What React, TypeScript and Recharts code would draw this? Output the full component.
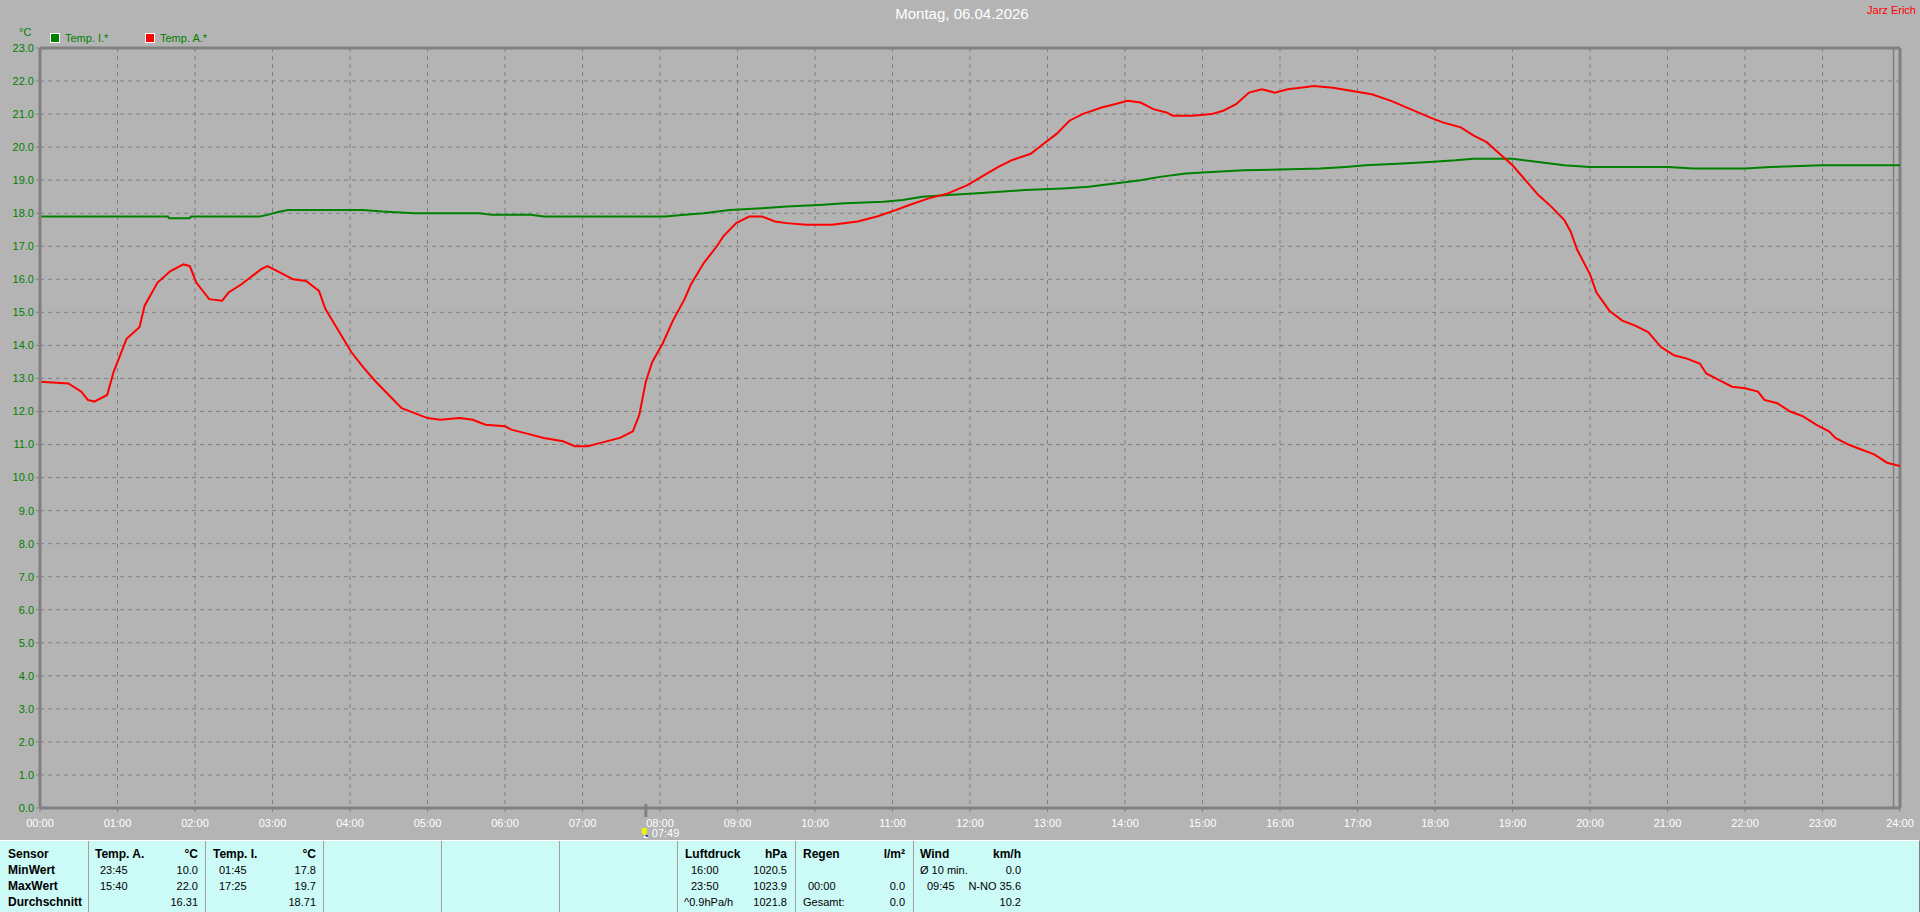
import React from 'react';
import { LineChart, Line, XAxis, YAxis, CartesianGrid, ReferenceLine } from 'recharts';

const FONT = '"Liberation Sans", Arial, Helvetica, sans-serif';

// time in minutes since midnight
const hourTicks = [0, 60, 120, 180, 240, 300, 360, 420, 480, 540, 600, 660, 720, 780, 840, 900, 960, 1020, 1080, 1140, 1200, 1260, 1320, 1380, 1440];
const tempTicks = [0, 1, 2, 3, 4, 5, 6, 7, 8, 9, 10, 11, 12, 13, 14, 15, 16, 17, 18, 19, 20, 21, 22, 23];

// Temp. A. (aussen)
const outTimes = [
  0, 22, 32, 37, 42, 52, 57, 62, 67, 77, 81, 91, 101, 111, 116, 121, 131, 141, 146, 156,
  161, 171, 176, 186, 196, 206, 216, 221, 231, 241, 250, 260, 270, 280, 290, 300, 310, 325, 335, 345,
  360, 365, 380, 390, 405, 414, 424, 434, 449, 459, 464, 469, 474, 482, 490, 499, 504, 514, 524, 529,
  539, 549, 559, 569, 578, 593, 613, 633, 648, 663, 673, 688, 703, 718, 733, 742, 752, 767, 777, 787,
  797, 807, 822, 832, 842, 852, 862, 872, 877, 892, 907, 916, 926, 936, 946, 956, 966, 976, 986, 1001,
  1016, 1031, 1046, 1061, 1076, 1086, 1100, 1110, 1120, 1130, 1140, 1150, 1160, 1170, 1180, 1185, 1190, 1200, 1205, 1215,
  1225, 1235, 1245, 1255, 1265, 1275, 1285, 1290, 1300, 1310, 1320, 1330, 1335, 1345, 1355, 1365, 1375, 1385, 1390, 1400,
  1410, 1420, 1430, 1440,
];
const outValues = [
  12.9, 12.85, 12.6, 12.35, 12.3, 12.5, 13.2, 13.7, 14.2, 14.55, 15.2, 15.9, 16.25, 16.45, 16.4, 15.9, 15.4, 15.35, 15.6, 15.85,
  16.0, 16.3, 16.4, 16.2, 16.0, 15.95, 15.65, 15.1, 14.45, 13.8, 13.35, 12.9, 12.5, 12.1, 11.95, 11.8, 11.75, 11.8, 11.75, 11.6,
  11.55, 11.45, 11.3, 11.2, 11.1, 10.95, 10.95, 11.05, 11.2, 11.4, 11.9, 12.9, 13.5, 14.05, 14.75, 15.4, 15.85, 16.5, 17.0, 17.3,
  17.7, 17.9, 17.9, 17.75, 17.7, 17.65, 17.65, 17.75, 17.9, 18.1, 18.25, 18.45, 18.6, 18.85, 19.2, 19.4, 19.6, 19.8, 20.1, 20.4,
  20.8, 21.0, 21.2, 21.3, 21.4, 21.35, 21.15, 21.05, 20.95, 20.95, 21.0, 21.1, 21.3, 21.65, 21.75, 21.65, 21.75, 21.8, 21.85, 21.8,
  21.7, 21.6, 21.4, 21.15, 20.9, 20.75, 20.6, 20.35, 20.15, 19.8, 19.45, 19.0, 18.55, 18.2, 17.8, 17.45, 16.9, 16.15, 15.6, 15.05,
  14.75, 14.6, 14.4, 13.95, 13.7, 13.6, 13.45, 13.15, 12.95, 12.75, 12.7, 12.6, 12.35, 12.25, 12.0, 11.85, 11.6, 11.4, 11.2, 11.0,
  10.85, 10.7, 10.45, 10.35,
];

// Temp. I. (innen)
const inTimes = [
  0, 99, 100, 116, 117, 170, 176, 186, 192, 250, 265, 290, 340, 350, 380, 390, 484, 499, 514, 534,
  559, 578, 603, 623, 653, 668, 683, 703, 723, 743, 762, 792, 812, 832, 852, 867, 887, 907, 932, 991,
  1011, 1026, 1051, 1076, 1096, 1110, 1140, 1160, 1180, 1200, 1260, 1280, 1320, 1340, 1380, 1440,
];
const inValues = [
  17.9, 17.9, 17.85, 17.85, 17.9, 17.9, 17.95, 18.05, 18.1, 18.1, 18.05, 18.0, 18.0, 17.95, 17.95, 17.9, 17.9, 17.95, 18.0, 18.1,
  18.15, 18.2, 18.25, 18.3, 18.35, 18.4, 18.5, 18.55, 18.6, 18.65, 18.7, 18.75, 18.8, 18.9, 19.0, 19.1, 19.2, 19.25, 19.3, 19.35,
  19.4, 19.45, 19.5, 19.55, 19.6, 19.65, 19.65, 19.55, 19.45, 19.4, 19.4, 19.35, 19.35, 19.4, 19.45, 19.45,
];

const legendItems = [
  { name: 'Temp. I.*', color: '#008000' },
  { name: 'Temp. A.*', color: '#ff0000' },
];

const markerMinute = 469;
const markerLabel = '07:49';

const outData = outTimes.map((t, i) => ({ t, v: outValues[i] }));
const inData = inTimes.map((t, i) => ({ t, v: inValues[i] }));

const pad = (n: number) => String(n).padStart(2, '0');
const hourLabel = (m: number) => `${pad(Math.round(m / 60))}:00`;

const GRID = '#808080';
const BG = '#b4b4b4';

const NowMarker = (props: any) => {
  const vb = props.viewBox;
  if (!vb) return null;
  const x = vb.x;
  const yb = vb.y + vb.height;
  return (
    <g>
      <line x1={x} x2={x} y1={yb - 4} y2={yb + 9} stroke={GRID} strokeWidth={3} />
      <path
        d={`M${x - 4} ${yb + 20} L${x + 1} ${yb + 20} L${x + 1} ${yb + 25} L${x - 1} ${yb + 27} L${x - 2} ${yb + 27} L${x - 4} ${yb + 25} Z`}
        fill="#f0f000"
      />
      <rect x={x - 2} y={yb + 28} width={4} height={2} fill="#ffffff" />
      <rect x={x} y={yb + 27} width={2} height={2} fill="#2040a0" />
      <text x={x + 6} y={yb + 29} fill="#ffffff" fontSize={11} fontFamily={FONT}>
        {markerLabel}
      </text>
    </g>
  );
};

// stats table below the chart
const separators = [88, 205, 323, 441, 559, 677, 795, 913];
type Cell = { x: number; row: number; text: string; right?: boolean; bold?: boolean };
const tableCells: Cell[] = [
  { x: 8, row: 0, text: 'Sensor', bold: true },
  { x: 8, row: 1, text: 'MinWert', bold: true },
  { x: 8, row: 2, text: 'MaxWert', bold: true },
  { x: 8, row: 3, text: 'Durchschnitt', bold: true },

  { x: 95, row: 0, text: 'Temp. A.', bold: true },
  { x: 199, row: 0, text: '°C', bold: true, right: true },
  { x: 100, row: 1, text: '23:45' },
  { x: 199, row: 1, text: '10.0', right: true },
  { x: 100, row: 2, text: '15:40' },
  { x: 199, row: 2, text: '22.0', right: true },
  { x: 199, row: 3, text: '16.31', right: true },

  { x: 213, row: 0, text: 'Temp. I.', bold: true },
  { x: 317, row: 0, text: '°C', bold: true, right: true },
  { x: 219, row: 1, text: '01:45' },
  { x: 317, row: 1, text: '17.8', right: true },
  { x: 219, row: 2, text: '17:25' },
  { x: 317, row: 2, text: '19.7', right: true },
  { x: 317, row: 3, text: '18.71', right: true },

  { x: 685, row: 0, text: 'Luftdruck', bold: true },
  { x: 788, row: 0, text: 'hPa', bold: true, right: true },
  { x: 691, row: 1, text: '16:00' },
  { x: 788, row: 1, text: '1020.5', right: true },
  { x: 691, row: 2, text: '23:50' },
  { x: 788, row: 2, text: '1023.9', right: true },
  { x: 684, row: 3, text: '^0.9hPa/h' },
  { x: 788, row: 3, text: '1021.8', right: true },

  { x: 803, row: 0, text: 'Regen', bold: true },
  { x: 906, row: 0, text: 'l/m²', bold: true, right: true },
  { x: 808, row: 2, text: '00:00' },
  { x: 906, row: 2, text: '0.0', right: true },
  { x: 803, row: 3, text: 'Gesamt:' },
  { x: 906, row: 3, text: '0.0', right: true },

  { x: 920, row: 0, text: 'Wind', bold: true },
  { x: 1022, row: 0, text: 'km/h', bold: true, right: true },
  { x: 920, row: 1, text: 'Ø 10 min.' },
  { x: 1022, row: 1, text: '0.0', right: true },
  { x: 927, row: 2, text: '09:45' },
  { x: 1022, row: 2, text: 'N-NO 35.6', right: true },
  { x: 1022, row: 3, text: '10.2', right: true },
];

const StatsTable = () => (
  <div
    style={{
      position: 'absolute',
      left: 0,
      top: 840,
      width: 1920,
      height: 72,
      boxSizing: 'border-box',
      background: '#ccfaf6',
      borderTop: '1px solid #ffffff',
      borderRight: '1px solid #808080',
      fontFamily: FONT,
      color: '#000',
    }}
  >
    {separators.map((x) => (
      <div key={x} style={{ position: 'absolute', left: x, top: 0, width: 1, height: 72, background: '#a0a0a0' }} />
    ))}
    {tableCells.map((c, i) => (
      <div
        key={i}
        style={{
          position: 'absolute',
          top: 5 + c.row * 16,
          height: 16,
          lineHeight: '16px',
          fontSize: c.bold ? 12 : 11,
          fontWeight: c.bold ? 'bold' : 'normal',
          whiteSpace: 'nowrap',
          ...(c.right ? { right: 1920 - c.x } : { left: c.x }),
        }}
      >
        {c.text}
      </div>
    ))}
  </div>
);

export default function App() {
  return (
    <div style={{ position: 'relative', width: 1920, height: 912, background: BG, overflow: 'hidden', fontFamily: FONT }}>
      <style>{'body{margin:0;}'}</style>

      <div style={{ position: 'absolute', left: 0, width: 1924, top: 5, textAlign: 'center', color: '#ffffff', fontSize: 15 }}>
        Montag, 06.04.2026
      </div>
      <div style={{ position: 'absolute', right: 4, top: 4, color: '#ff0000', fontSize: 11 }}>Jarz Erich</div>
      <div style={{ position: 'absolute', left: 19, top: 26, color: '#008000', fontSize: 11 }}>°C</div>

      <div style={{ position: 'absolute', left: 50, top: 33, display: 'flex', gap: 0 }}>
        {legendItems.map((it) => (
          <div key={it.name} style={{ display: 'flex', alignItems: 'center', width: 95 }}>
            <span
              style={{
                display: 'inline-block',
                width: 8,
                height: 8,
                background: it.color,
                border: '1px solid #ffffff',
                marginRight: 5,
              }}
            />
            <span style={{ color: '#008000', fontSize: 11, lineHeight: '10px' }}>{it.name}</span>
          </div>
        ))}
      </div>

      <div style={{ position: 'absolute', left: 0, top: 0 }}>
        <LineChart width={1920} height={840} margin={{ top: 48, right: 20, bottom: 0, left: 0 }}>
          <CartesianGrid stroke={GRID} strokeDasharray="4 4" />
          <XAxis
            type="number"
            dataKey="t"
            domain={[0, 1440]}
            ticks={hourTicks}
            interval={0}
            tickFormatter={hourLabel}
            height={32}
            tickSize={4}
            tickMargin={7}
            axisLine={{ stroke: GRID, strokeWidth: 3 }}
            tickLine={{ stroke: GRID }}
            tick={{ fill: '#ffffff', fontSize: 11, fontFamily: FONT }}
            allowDataOverflow
          />
          <YAxis
            type="number"
            domain={[0, 23]}
            ticks={tempTicks}
            interval={0}
            tickFormatter={(v: number) => v.toFixed(1)}
            width={40}
            tickSize={4}
            tickMargin={2}
            axisLine={{ stroke: GRID, strokeWidth: 3 }}
            tickLine={{ stroke: GRID }}
            tick={{ fill: '#008000', fontSize: 11, fontFamily: FONT }}
            allowDataOverflow
          />
          <ReferenceLine y={23} stroke={GRID} strokeWidth={3} />
          <ReferenceLine x={1440} stroke={GRID} strokeWidth={3} />
          <ReferenceLine x={1435} stroke={GRID} strokeWidth={1.5} />
          <ReferenceLine x={markerMinute} stroke="none" label={(p: any) => <NowMarker {...p} />} />
          <Line data={inData} dataKey="v" type="linear" stroke="#008000" strokeWidth={2} dot={false} isAnimationActive={false} />
          <Line data={outData} dataKey="v" type="linear" stroke="#ff0000" strokeWidth={2} dot={false} isAnimationActive={false} />
        </LineChart>
      </div>

      <StatsTable />
    </div>
  );
}
